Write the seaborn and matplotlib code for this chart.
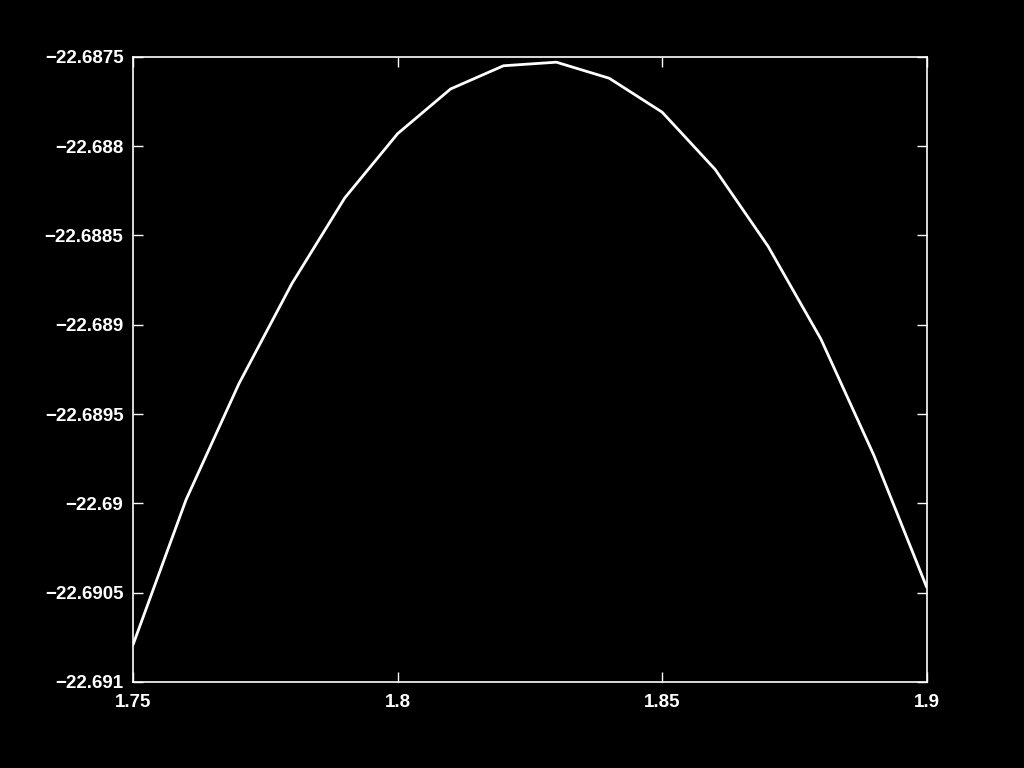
import numpy as np
import pandas as pd
import seaborn as sns
import matplotlib.pyplot as plt
from matplotlib.ticker import FuncFormatter

# values
x_vals = [1.75, 1.76, 1.77, 1.78, 1.79, 1.80, 1.81, 1.82,
          1.83, 1.84, 1.85, 1.86, 1.87, 1.88, 1.89, 1.90]
y_vals = [-22.69079, -22.68998, -22.68933, -22.68877, -22.68829, -22.68793,
          -22.68768, -22.68755, -22.68753, -22.68762, -22.68781, -22.68813,
          -22.68856, -22.68908, -22.68973, -22.69047]
x_ticks = [1.75, 1.8, 1.85, 1.9]
y_ticks = [-22.691, -22.6905, -22.69, -22.6895, -22.689, -22.6885, -22.688, -22.6875]

df = pd.DataFrame({"x": x_vals, "y": y_vals})

sns.set_style("dark")
plt.rcParams['font.family'] = ['Liberation Sans', 'DejaVu Sans']

fig = plt.figure(figsize=(10.24, 7.68), dpi=100, facecolor="black")
ax = fig.add_axes([0.130, 0.112, 0.775, 0.814])
ax.set_facecolor("black")

sns.lineplot(data=df, x="x", y="y", color="white", linewidth=2, ax=ax)

ax.set_xlim(1.75, 1.9)
ax.set_ylim(-22.691, -22.6875)
ax.set_xticks(x_ticks)
ax.set_yticks(y_ticks)
fmt = FuncFormatter(lambda v, p: ("%g" % v).replace("-", "\u2212"))
ax.xaxis.set_major_formatter(fmt)
ax.yaxis.set_major_formatter(fmt)
ax.set_xlabel("")
ax.set_ylabel("")
ax.grid(False)

for s in ax.spines.values():
    s.set_visible(True)
    s.set_color("white")
    s.set_linewidth(1.2)

ax.tick_params(axis="both", direction="in", length=7, width=1, color="white",
               labelcolor="white", labelsize=13.5, top=True, right=True,
               bottom=True, left=True)
ax.tick_params(axis="y", pad=7)
ax.tick_params(axis="x", pad=9)
for lab in ax.get_xticklabels() + ax.get_yticklabels():
    lab.set_fontweight("bold")

fig.savefig("out.png", dpi=100, facecolor="black")
